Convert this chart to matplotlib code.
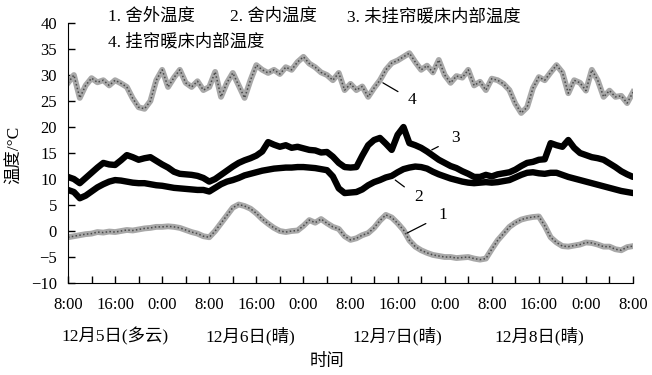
import numpy as np
import matplotlib.pyplot as plt
import matplotlib.transforms as mtransforms

plt.rcParams['font.family'] = ['Liberation Serif', 'Noto Sans CJK SC']

# hours since 12月5日 8:00
hours = np.arange(0, 97)

# 1. 舍外温度
t_out = [-1.2, -1.0, -0.8, -0.6, -0.5, -0.2, -0.3, -0.1, -0.2, 0.0,
         0.2, 0.1, 0.3, 0.5, 0.6, 0.8, 0.8, 0.9, 0.8, 0.6,
         0.2, -0.2, -0.5, -1.0, -1.2, 0.0, 1.5, 3.0, 4.5, 5.1,
         4.8, 4.3, 3.4, 2.3, 1.4, 0.6, 0.0, -0.2, 0.0, 0.1,
         1.0, 2.1, 1.6, 2.3, 1.5, 0.8, 0.4, -1.0, -1.7, -1.4,
         -0.8, -0.4, 0.6, 2.0, 3.1, 2.6, 1.5, 0.2, -1.8, -3.0,
         -3.7, -4.2, -4.6, -4.8, -5.0, -5.0, -5.2, -5.1, -5.0, -5.3,
         -5.5, -5.3, -3.5, -1.8, -0.5, 0.8, 1.6, 2.2, 2.5, 2.7,
         2.8, 1.0, -1.2, -2.2, -2.9, -3.0, -2.8, -2.6, -2.2, -2.3,
         -2.6, -3.0, -3.0, -3.5, -3.7, -3.1, -2.9]

# 2. 舍内温度
t_in = [7.9, 7.5, 6.3, 6.8, 7.6, 8.4, 9.0, 9.5, 9.8, 9.7,
        9.5, 9.3, 9.2, 9.2, 9.0, 8.8, 8.7, 8.5, 8.3, 8.2,
        8.1, 8.0, 7.9, 7.9, 7.6, 8.3, 9.0, 9.5, 9.8, 10.2,
        10.7, 11.0, 11.3, 11.6, 11.8, 12.0, 12.1, 12.2, 12.2, 12.3,
        12.3, 12.2, 12.1, 11.9, 11.7, 10.5, 8.2, 7.3, 7.4, 7.5,
        8.0, 8.8, 9.4, 9.8, 10.3, 10.6, 11.3, 11.9, 12.2, 12.4,
        12.3, 12.0, 11.4, 10.9, 10.5, 10.1, 9.8, 9.5, 9.3, 9.2,
        9.3, 9.4, 9.3, 9.4, 9.6, 9.8, 10.3, 10.8, 11.2, 11.3,
        11.1, 11.0, 11.2, 11.2, 10.8, 10.4, 10.1, 9.8, 9.5, 9.2,
        8.9, 8.6, 8.3, 8.0, 7.7, 7.5, 7.3]

# 3. 未挂帘暖床内部温度
t_bed_open = [10.4, 10.0, 9.2, 10.2, 11.2, 12.2, 13.1, 12.8, 12.7, 13.6,
              14.6, 14.2, 13.7, 14.0, 14.2, 13.5, 12.8, 12.2, 11.4, 11.0,
              10.9, 10.8, 10.6, 10.2, 9.5, 10.0, 10.8, 11.6, 12.4, 13.1,
              13.6, 14.0, 14.5, 15.3, 17.1, 16.6, 16.2, 16.5, 16.0, 16.2,
              15.9, 15.6, 15.5, 15.1, 15.2, 14.3, 13.1, 12.3, 12.2, 12.3,
              14.5, 16.5, 17.5, 17.9, 16.8, 15.6, 18.5, 20.0, 16.9, 16.5,
              16.0, 15.3, 14.5, 13.7, 13.1, 12.5, 12.1, 11.5, 11.0, 10.4,
              10.4, 10.8, 10.5, 10.9, 11.1, 11.3, 11.8, 12.5, 13.1, 13.3,
              13.7, 13.8, 16.9, 16.5, 16.2, 17.5, 16.0, 15.0, 14.6, 14.2,
              14.0, 13.7, 13.0, 12.3, 11.5, 10.9, 10.4]

# 4. 挂帘暖床内部温度
t_bed_curtain = [28.5, 30.0, 25.6, 28.0, 29.4, 28.6, 29.0, 28.0, 29.0, 28.4,
                 27.7, 25.5, 23.8, 23.5, 25.0, 29.0, 31.0, 27.7, 29.5, 31.0,
                 28.5, 27.7, 28.8, 27.1, 27.7, 30.6, 25.8, 28.5, 30.4, 28.0,
                 25.6, 29.0, 31.9, 31.0, 30.4, 31.0, 30.2, 31.5, 31.0, 32.5,
                 33.5, 32.2, 31.5, 30.5, 30.0, 29.0, 30.4, 27.1, 28.3, 27.1,
                 27.8, 25.8, 27.5, 29.0, 31.0, 32.3, 32.8, 33.5, 34.2, 32.5,
                 31.0, 31.8, 30.5, 32.9, 30.0, 28.5, 29.8, 29.5, 31.0, 28.0,
                 28.7, 27.1, 29.3, 29.0, 28.3, 27.1, 24.5, 22.7, 23.8, 27.5,
                 29.6, 29.0, 30.5, 31.9, 30.5, 26.5, 29.0, 28.5, 27.0, 31.0,
                 29.0, 25.8, 27.0, 25.8, 26.0, 24.6, 26.7]

tick_hours = np.arange(0, 97, 8)
tick_labels = ["8:00", "16:00", "0:00"] * 4 + ["8:00"]
day_labels = ["12月5日(多云)", "12月6日(晴)", "12月7日(晴)", "12月8日(晴)"]
day_pos = [8, 31, 56, 80]

fig = plt.figure(figsize=(6.52, 3.75), dpi=100)
ax = fig.add_axes([0.1043, 0.2453, 0.8666, 0.6933])

# grey speckled bands
for s in (t_out, t_bed_curtain):
    ax.plot(hours, s, color="#a8a8a8", lw=4.2, solid_joinstyle="round")
    ax.plot(hours, s, color="#4a4a4a", lw=1.1, ls=(0, (1, 1.5)))
# black bands
ax.plot(hours, t_in, color="black", lw=4.6, solid_joinstyle="round", solid_capstyle="round")
ax.plot(hours, t_bed_open, color="black", lw=4.6, solid_joinstyle="round", solid_capstyle="round")

ax.set_xlim(0, 96)
ax.set_ylim(-10, 40)
ax.set_xticks(tick_hours)
ax.set_xticklabels(tick_labels)
ax.set_xticks(np.arange(0, 97, 4), minor=True)
ax.set_yticks(np.arange(-10, 41, 5))
ax.tick_params(axis="both", which="both", direction="in", length=5, width=1, labelsize=12)
ax.tick_params(axis="x", pad=10)
ax.tick_params(axis="y", pad=8)
for side in ("top", "right"):
    ax.spines[side].set_visible(False)

# curve labels with leader lines
ax.annotate("4", xy=(53.5, 28.5), xytext=(58.5, 25.2), fontsize=12.5,
            ha="center", va="center",
            arrowprops=dict(arrowstyle="-", lw=0.9, shrinkB=0, shrinkA=6))
ax.annotate("3", xy=(61.8, 15.6), xytext=(65.8, 17.9), fontsize=12.5,
            ha="center", va="center",
            arrowprops=dict(arrowstyle="-", lw=0.9, shrinkB=0, shrinkA=8))
ax.annotate("2", xy=(55.6, 9.8), xytext=(59.5, 6.5), fontsize=12.5,
            ha="center", va="center",
            arrowprops=dict(arrowstyle="-", lw=0.9, shrinkB=0, shrinkA=6))
ax.annotate("1", xy=(57.6, -0.4), xytext=(63.7, 3.1), fontsize=12.5,
            ha="center", va="center",
            arrowprops=dict(arrowstyle="-", lw=0.9, shrinkB=0, shrinkA=8))

trans = mtransforms.blended_transform_factory(ax.transData, ax.transAxes)
for p, lab in zip(day_pos, day_labels):
    ax.text(p, -0.205, lab, transform=trans, ha="center", va="center", fontsize=12.5)
ax.text(44, -0.305, "时间", transform=trans, ha="center", va="center", fontsize=12.5)

fig.text(15 / 652, 1 - 155 / 375, "温度/°C", rotation=90, ha="center", va="center", fontsize=12.5)

fig.text(108 / 652, 1 - 17 / 375, "1. 舍外温度", ha="left", va="center", fontsize=12.5)
fig.text(230 / 652, 1 - 17 / 375, "2. 舍内温度", ha="left", va="center", fontsize=12.5)
fig.text(347 / 652, 1 - 17 / 375, "3. 未挂帘暖床内部温度", ha="left", va="center", fontsize=12.5)
fig.text(108 / 652, 1 - 42 / 375, "4. 挂帘暖床内部温度", ha="left", va="center", fontsize=12.5)

fig.savefig("out.png", dpi=100)
